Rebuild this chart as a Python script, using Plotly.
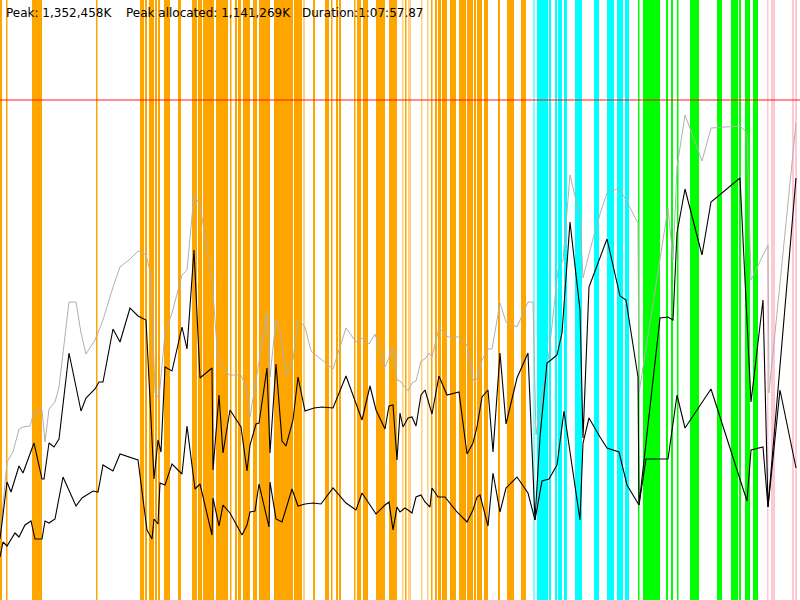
import plotly.graph_objects as go

# memory timeline, plotted in screen-like units (x: time, y: 0 at top)
peak_x = [0, 7, 13, 19, 23, 30, 34, 42, 45, 49, 55, 59, 69, 76, 81, 86, 95, 103, 113, 120,
          130, 138, 146, 151, 155, 159, 165, 172, 182, 187, 194, 200, 212, 218, 229, 241, 247,
          250, 267, 270, 276, 281, 286, 293, 298, 305, 311, 322, 333, 346, 356, 362, 369, 375,
          385, 393, 397, 400, 408, 412, 416, 421, 425, 429, 432, 439, 448, 459, 467, 473, 477,
          482, 488, 492, 500, 506, 517, 528, 533, 536, 549, 558, 563, 570, 580, 583, 590, 600,
          607, 619, 626, 638, 639, 668, 673, 677, 685, 702, 711, 740, 747, 751, 768, 769, 796]
peak_y = [537, 462, 452, 429, 427, 426, 412, 410, 442, 409, 402, 387, 302, 302, 333, 354, 340,
          320, 287, 267, 259, 251, 255, 275, 393, 398, 333, 313, 275, 270, 195, 205, 280, 360,
          375, 375, 390, 417, 313, 377, 319, 337, 376, 360, 319, 327, 351, 360, 369, 328, 342,
          338, 344, 334, 367, 348, 380, 381, 391, 383, 381, 361, 359, 353, 357, 328, 337, 337,
          345, 380, 379, 360, 349, 349, 303, 322, 327, 302, 302, 435, 353, 270, 260, 175, 217,
          278, 250, 214, 193, 188, 200, 223, 393, 208, 260, 167, 115, 161, 128, 126, 133, 280,
          245, 393, 123]

cur_x = [0, 7, 11, 19, 23, 34, 42, 44, 49, 54, 59, 69, 81, 86, 95, 99, 103, 113, 120, 130,
         138, 146, 154, 158, 161, 165, 172, 182, 187, 194, 200, 212, 213, 219, 223, 230, 241,
         247, 250, 256, 259, 267, 270, 276, 282, 286, 293, 298, 305, 314, 322, 333, 346, 362,
         370, 376, 385, 389, 393, 397, 400, 403, 408, 412, 416, 421, 425, 432, 439, 447, 459,
         467, 473, 477, 482, 488, 493, 500, 506, 517, 528, 535, 540, 547, 551, 557, 562, 570,
         580, 583, 589, 600, 607, 620, 626, 638, 639, 660, 668, 673, 677, 685, 702, 711, 740,
         751, 763, 768, 796]
cur_y = [539, 482, 492, 466, 473, 443, 479, 479, 443, 447, 439, 353, 411, 398, 389, 382, 382,
         329, 342, 308, 316, 320, 479, 440, 452, 367, 371, 327, 349, 250, 378, 368, 470, 395,
         453, 410, 427, 471, 445, 424, 423, 368, 453, 364, 441, 446, 420, 377, 411, 408, 407,
         408, 376, 420, 386, 410, 429, 406, 405, 460, 413, 427, 418, 417, 426, 395, 390, 414,
         376, 395, 392, 454, 443, 427, 397, 390, 452, 353, 424, 378, 353, 520, 437, 363, 360,
         355, 333, 222, 310, 438, 287, 257, 239, 296, 300, 377, 505, 318, 317, 320, 233, 189,
         255, 202, 178, 402, 300, 507, 178]

alloc_x = [0, 3, 7, 15, 19, 25, 31, 35, 42, 45, 49, 55, 63, 76, 82, 93, 98, 103, 113, 120,
           138, 147, 152, 154, 158, 160, 165, 172, 182, 187, 195, 200, 212, 213, 219, 223, 230,
           242, 247, 250, 255, 259, 269, 270, 276, 282, 292, 298, 305, 313, 321, 333, 346, 356,
           362, 376, 385, 389, 393, 397, 400, 405, 408, 412, 416, 421, 425, 430, 432, 438, 445,
           457, 467, 473, 477, 480, 488, 493, 500, 506, 517, 528, 535, 542, 549, 557, 564, 580,
           583, 589, 600, 607, 619, 627, 639, 646, 668, 677, 685, 711, 747, 751, 763, 768, 780,
           796]
alloc_y = [557, 542, 546, 533, 537, 525, 521, 539, 539, 521, 523, 519, 477, 506, 498, 491, 492,
           465, 471, 454, 460, 530, 539, 519, 524, 483, 485, 464, 474, 426, 489, 484, 535, 498,
           526, 505, 513, 535, 525, 512, 511, 484, 527, 482, 519, 522, 489, 506, 504, 503, 504,
           488, 503, 510, 493, 514, 505, 502, 530, 507, 512, 508, 510, 513, 497, 495, 502, 507,
           488, 497, 497, 512, 522, 510, 497, 495, 526, 473, 512, 488, 477, 493, 520, 481, 479,
           465, 411, 520, 443, 418, 437, 448, 452, 485, 505, 459, 459, 395, 428, 389, 501, 450,
           447, 507, 390, 468]

# event stripes (start, end)
orange_spans = [(0, 2), (6, 7.5), (32, 42), (96, 97.5), (140, 144), (145, 147), (149, 154),
                (155, 157), (158, 160), (164, 170), (178, 181), (192, 197), (198, 202),
                (203, 214), (216, 228), (230, 231.5), (235, 237), (238, 241), (243, 250),
                (253, 257), (259, 270), (274, 293), (294, 302), (313, 315), (325, 329),
                (331, 332.5), (336, 338), (339, 341), (354, 355.5), (357, 361), (363, 368),
                (376, 385), (389, 397), (405, 406.5), (431, 432.5), (435, 437), (438, 441),
                (442, 447), (450, 456), (459, 466), (467, 473), (474, 476), (477, 482),
                (484, 488), (498, 500), (507, 514), (521, 526)]
light_orange_spans = [(303, 305), (402, 403.5), (408, 411), (421, 422.5), (427, 428.5)]
cyan_spans = [(537, 548), (549, 551), (555, 557), (558, 562), (564, 567), (575, 582),
              (594, 599), (607, 614), (617, 623), (625, 629)]
light_cyan_spans = [(533, 535)]
green_spans = [(638, 639.5), (643, 660), (666, 668), (671, 673), (677, 678.5), (690, 699),
               (717, 722), (731, 738), (739, 741), (745, 750), (753, 758)]
pink_spans = [(767, 768.5), (771, 775), (792, 794), (795, 797)]

limit_y = 100
summary = ["Peak: 1,352,458K", "Peak allocated: 1,141,269K", "Duration:1:07:57.87"]
summary_x = [4, 124, 300]

fig = go.Figure()

shapes = []
for spans, col in [(orange_spans, "#FFA500"), (light_orange_spans, "#FFD27F"),
                   (cyan_spans, "#00FFFF"), (light_cyan_spans, "#80FFFF"),
                   (green_spans, "#00FF00"), (pink_spans, "#FFC8D2")]:
    for a, b in spans:
        shapes.append(dict(type="rect", xref="x", yref="y", x0=a, x1=b, y0=0, y1=600,
                           fillcolor=col, line_width=0, layer="below"))
shapes.append(dict(type="line", xref="x", yref="y", x0=0, x1=800, y0=limit_y, y1=limit_y,
                   line=dict(color="rgba(255,0,0,0.6)", width=1.5)))

fig.add_trace(go.Scatter(x=peak_x, y=peak_y, mode="lines",
                         line=dict(color="#b0b0b0", width=1)))
fig.add_trace(go.Scatter(x=cur_x, y=cur_y, mode="lines",
                         line=dict(color="black", width=1.1)))
fig.add_trace(go.Scatter(x=alloc_x, y=alloc_y, mode="lines",
                         line=dict(color="black", width=1.1)))

for txt, tx in zip(summary, summary_x):
    fig.add_annotation(x=tx, y=13, xref="x", yref="y", text=txt, showarrow=False,
                       xanchor="left", yanchor="middle",
                       font=dict(family="DejaVu Sans", size=12, color="black"))

fig.update_layout(width=800, height=600, margin=dict(l=0, r=0, t=0, b=0),
                  plot_bgcolor="white", paper_bgcolor="white", showlegend=False,
                  shapes=shapes,
                  xaxis=dict(range=[0, 800], visible=False, fixedrange=True),
                  yaxis=dict(range=[600, 0], visible=False, fixedrange=True))

fig.write_html("out.html", config={"displayModeBar": False},
               post_script="document.body.style.margin='0';"
                           "document.body.style.overflow='hidden';")
